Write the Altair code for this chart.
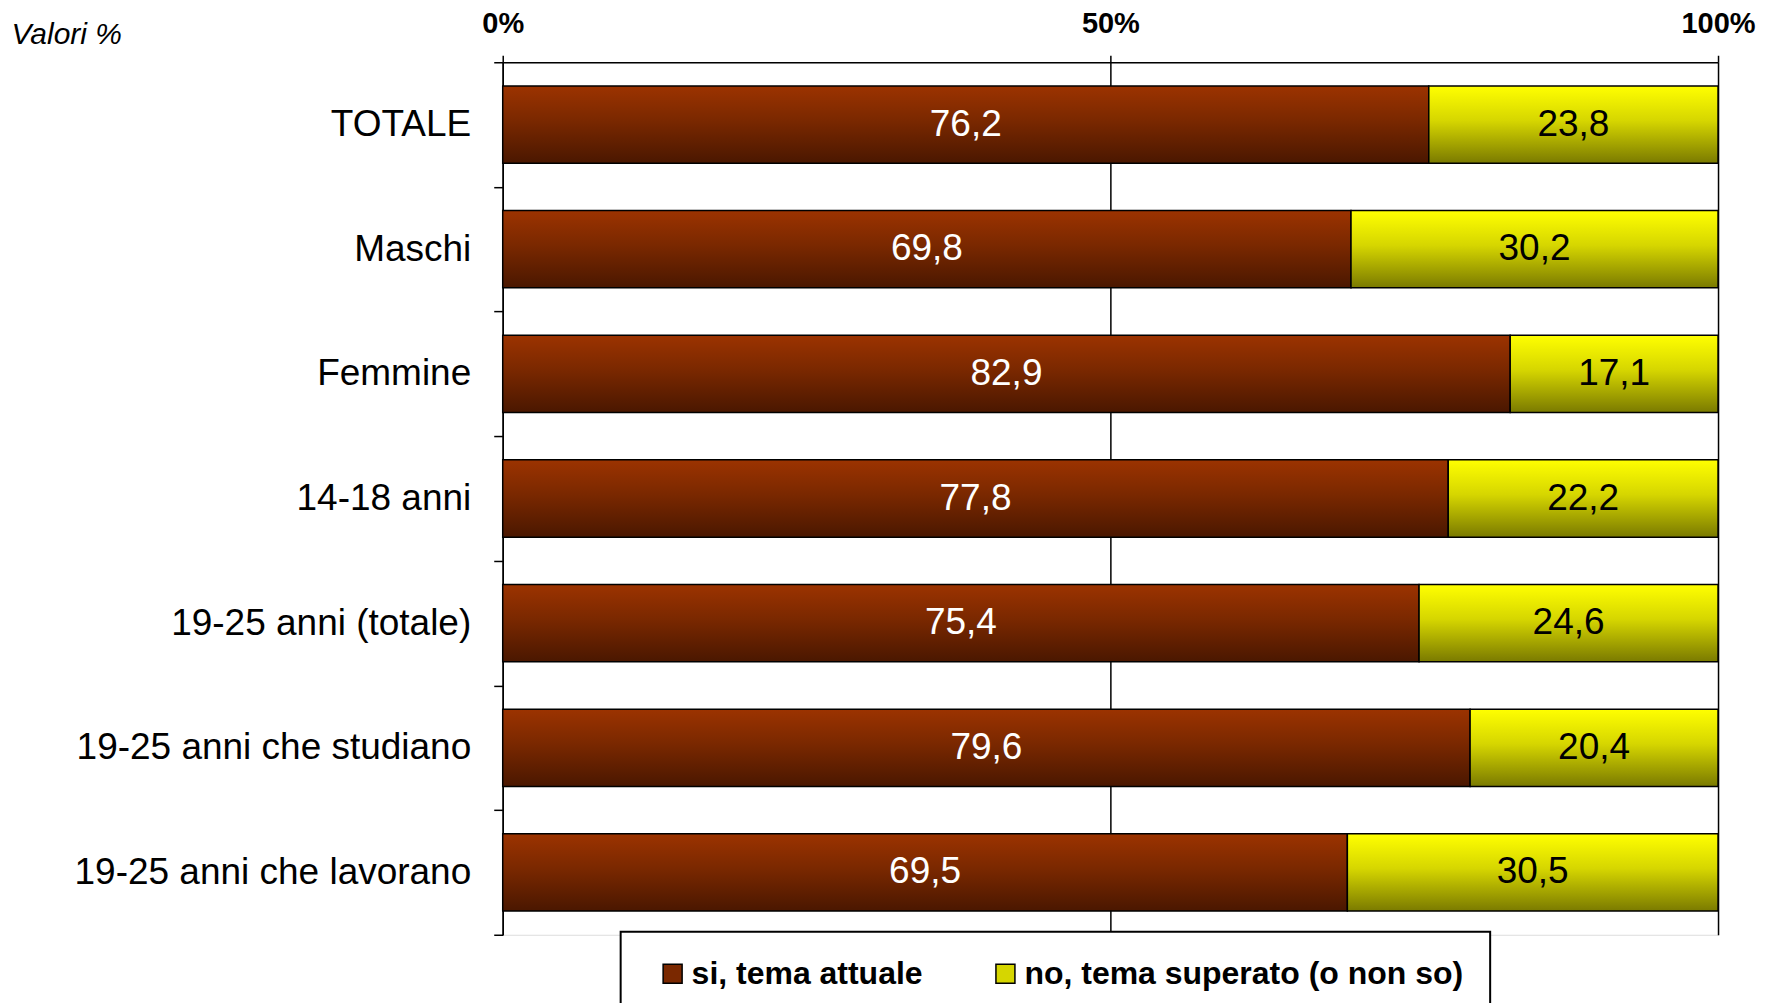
import altair as alt
import pandas as pd

categories = ["TOTALE", "Maschi", "Femmine", "14-18 anni", "19-25 anni (totale)",
              "19-25 anni che studiano", "19-25 anni che lavorano"]
si_values = [76.2, 69.8, 82.9, 77.8, 75.4, 79.6, 69.5]
no_values = [23.8, 30.2, 17.1, 22.2, 24.6, 20.4, 30.5]
series_names = ["si, tema attuale", "no, tema superato (o non so)"]
x_ticks = [0, 50, 100]


def fmt(v):
    return f"{v:.1f}".replace(".", ",")


df = pd.DataFrame({"cat": categories, "si": si_values, "no": no_values})
df["zero"] = 0.0
df["si_end"] = df["si"]
df["no_end"] = (df["si"] + df["no"]).clip(upper=100)
df["si_mid"] = df["si"] / 2
df["no_mid"] = df["si"] + df["no"] / 2
df["si_lbl"] = [fmt(v) for v in si_values]
df["no_lbl"] = [fmt(v) for v in no_values]

FONT = "Liberation Sans"

x_scale = alt.Scale(domain=[0, 100], nice=False, zero=True)
x_axis = alt.Axis(orient="top", values=x_ticks, labelExpr="datum.value + '%'",
                  labelFontWeight="bold", labelFontSize=29, labelColor="black",
                  labelFlush=False, labelPadding=17, grid=True, gridColor="black",
                  gridWidth=1.5, gridOpacity=1, domainColor="black", domainWidth=1.5,
                  tickColor="black", tickSize=7, tickWidth=1.5, title=None)
y_enc = alt.Y("cat:N", sort=categories,
              scale=alt.Scale(paddingInner=0, paddingOuter=0),
              axis=alt.Axis(title="Valori %", titleAngle=0, titleX=-492, titleY=-28,
                            titleAlign="left", titleBaseline="middle",
                            titleFontStyle="italic", titleFontWeight="normal",
                            titleFontSize=30, titleColor="black",
                            domainColor="black", domainWidth=1.5, tickBand="extent",
                            tickSize=9, tickColor="black", tickWidth=1.5,
                            labelFontSize=37, labelColor="black", labelPadding=23,
                            labelLimit=800, grid=False))

red_grad = alt.Gradient(gradient="linear", x1=0, x2=0, y1=0, y2=1,
                        stops=[alt.GradientStop(color="#9c3300", offset=0),
                               alt.GradientStop(color="#7a2800", offset=0.45),
                               alt.GradientStop(color="#4a1700", offset=1)])
yellow_grad = alt.Gradient(gradient="linear", x1=0, x2=0, y1=0, y2=1,
                           stops=[alt.GradientStop(color="#ffff00", offset=0),
                                  alt.GradientStop(color="#d6d600", offset=0.45),
                                  alt.GradientStop(color="#7a7a00", offset=1)])

base = alt.Chart(df)
BAR_H = {"band": 0.62}

si_bar = base.mark_bar(fill=red_grad, stroke="black", strokeWidth=1.5, height=BAR_H).encode(
    x=alt.X("zero:Q", scale=x_scale, axis=x_axis),
    x2="si_end:Q",
    y=y_enc,
)
no_bar = base.mark_bar(fill=yellow_grad, stroke="black", strokeWidth=1.5, height=BAR_H).encode(
    x=alt.X("si_end:Q", scale=x_scale, axis=x_axis),
    x2="no_end:Q",
    y=y_enc,
)
si_txt = base.mark_text(color="white", fontSize=37, font=FONT, baseline="middle",
                        align="center").encode(
    x=alt.X("si_mid:Q", scale=x_scale, axis=x_axis),
    y=y_enc,
    text="si_lbl:N",
)
no_txt = base.mark_text(color="black", fontSize=37, font=FONT, baseline="middle",
                        align="center").encode(
    x=alt.X("no_mid:Q", scale=x_scale, axis=x_axis),
    y=y_enc,
    text="no_lbl:N",
)

leg_df = pd.DataFrame({"series": series_names})
legend_layer = alt.Chart(leg_df).mark_square(opacity=0).encode(
    color=alt.Color("series:N",
                    scale=alt.Scale(domain=series_names, range=["#7a2800", "#d6d600"]),
                    legend=alt.Legend(title=None, orient="none", legendX=118, legendY=870,
                                      direction="horizontal", symbolType="square",
                                      symbolSize=361, symbolStrokeColor="black",
                                      symbolStrokeWidth=1.5, symbolOpacity=1,
                                      labelFontSize=32, labelFontWeight="bold",
                                      labelColor="black", labelOffset=3,
                                      columnPadding=56, padding=26, symbolOffset=10,
                                      strokeColor="black", fillColor="white",
                                      labelLimit=1000))
)

chart = alt.layer(si_bar, no_bar, si_txt, no_txt, legend_layer).properties(
    width=1216, height=873,
    autosize=alt.AutoSizeParams(type="none"),
    padding={"left": 495, "top": 54, "right": 50, "bottom": 80},
).configure_view(stroke=None).configure(font=FONT).configure_legend(strokeWidth=2)

chart.save("out.html", embed_options={"renderer": "svg", "actions": False})
